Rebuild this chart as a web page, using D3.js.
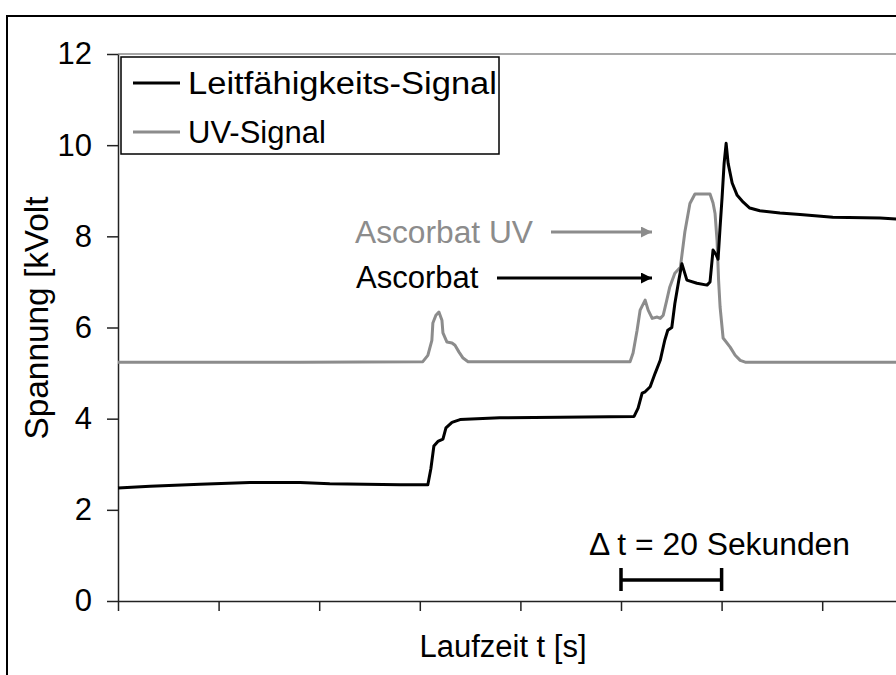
<!DOCTYPE html>
<html>
<head>
<meta charset="utf-8">
<script src="https://cdn.jsdelivr.net/npm/d3@7"></script>
<style>
  html, body { margin: 0; padding: 0; background: #fff; }
  svg { display: block; font-family: "Liberation Sans", Arial, sans-serif; }
</style>
</head>
<body>
<svg id="chart" width="896" height="675"></svg>
<script>
// Laufzeit t [s] and Spannung [kVolt] samples of the two detector signals
const leitTime  = [0, 6.4, 16.3, 26.2, 36.2, 42.1, 56.1, 61.6, 62.2, 62.8, 63.6, 64.6, 65.2, 66.4, 68.0, 75.9, 87.9, 102.6, 103.4, 104.2, 104.8, 105.8, 106.8, 107.8, 108.7, 109.3, 110.1, 110.7, 111.5, 112.1, 113.1, 115.1, 117.1, 117.7, 118.3, 118.9, 119.3, 119.7, 120.1, 120.5, 120.9, 121.3, 122.1, 123.1, 124.3, 125.6, 127.6, 131.6, 135.6, 142.1, 151.5, 154.7, 160];
const leitValue = [2.48, 2.52, 2.56, 2.60, 2.60, 2.57, 2.55, 2.55, 2.9, 3.4, 3.5, 3.55, 3.8, 3.92, 3.98, 4.02, 4.03, 4.05, 4.23, 4.56, 4.59, 4.7, 5.0, 5.28, 5.72, 5.94, 6.0, 6.52, 7.04, 7.4, 7.04, 6.97, 6.93, 7.0, 7.7, 7.6, 7.5, 8.2, 8.86, 9.6, 10.04, 9.6, 9.17, 8.9, 8.75, 8.62, 8.56, 8.51, 8.48, 8.42, 8.40, 8.38, 8.36];

const uvTime  = [0, 36.2, 60.6, 61.6, 62.4, 62.6, 63.2, 63.8, 64.4, 64.6, 65.4, 66.4, 67.0, 67.8, 68.6, 69.6, 101.8, 102.4, 103.2, 103.8, 104.8, 105.4, 106.2, 107.2, 107.8, 108.4, 109.1, 109.7, 110.7, 111.8, 112.7, 113.7, 114.7, 117.7, 118.3, 118.7, 119.1, 119.4, 119.7, 120.3, 121.7, 122.7, 123.7, 124.7, 154.7, 160];
const uvValue = [5.24, 5.24, 5.25, 5.39, 5.72, 6.1, 6.27, 6.34, 6.16, 5.88, 5.68, 5.66, 5.61, 5.46, 5.33, 5.25, 5.25, 5.44, 5.94, 6.38, 6.6, 6.38, 6.2, 6.23, 6.2, 6.27, 6.6, 6.89, 7.19, 7.32, 8.1, 8.72, 8.93, 8.93, 8.73, 8.5, 7.9, 7.04, 6.45, 5.77, 5.57, 5.39, 5.28, 5.24, 5.24, 5.24];

const yTicks = [0, 2, 4, 6, 8, 10, 12];
const xTicks = [0, 20, 40, 60, 80, 100, 120, 140, 160];
const legendLabels = ["Leitfähigkeits-Signal", "UV-Signal"];
const deltaSpan = [100, 120];

const BLACK = "#000";
const GREY = "#8c8c8c";
const FONT = 31;

const svg = d3.select("#chart");

// outer frame
svg.append("rect")
  .attr("x", 7).attr("y", 16)
  .attr("width", 1000).attr("height", 800)
  .attr("fill", "none").attr("stroke", BLACK).attr("stroke-width", 2);

const x = d3.scaleLinear().domain([0, 160]).range([118, 118 + 8 * 100.6]);
const y = d3.scaleLinear().domain([0, 12]).range([601, 54]);

// grey top border of the plot area
svg.append("line")
  .attr("x1", x(0)).attr("x2", 900)
  .attr("y1", y(12)).attr("y2", y(12))
  .attr("stroke", "#8a8a8a").attr("stroke-width", 1.5);

// y axis
const yAxis = svg.append("g")
  .attr("transform", `translate(${x(0)},0)`)
  .call(d3.axisLeft(y).tickValues(yTicks).tickSize(11).tickPadding(15).tickSizeOuter(0));
yAxis.selectAll("text").attr("font-size", FONT).attr("fill", BLACK)
  .attr("font-family", "Liberation Sans, Arial, sans-serif");
yAxis.selectAll("line, path").attr("stroke", "#222").attr("stroke-width", 1.5);

// x axis (unlabelled ticks)
const xAxis = svg.append("g")
  .attr("transform", `translate(0,${y(0)})`)
  .call(d3.axisBottom(x).tickValues(xTicks).tickSize(10).tickFormat("").tickSizeOuter(0));
xAxis.selectAll("line, path").attr("stroke", "#222").attr("stroke-width", 1.5);

// axis titles
svg.append("text")
  .attr("x", 503).attr("y", 657)
  .attr("text-anchor", "middle")
  .attr("font-size", FONT)
  .text("Laufzeit t [s]");

svg.append("text")
  .attr("transform", "translate(48,318) rotate(-90)")
  .attr("text-anchor", "middle")
  .attr("font-size", 33)
  .attr("textLength", 243).attr("lengthAdjust", "spacingAndGlyphs")
  .text("Spannung [kVolt");

// signal curves
const line = d3.line().x(d => x(d[0])).y(d => y(d[1]));
const uvData = uvTime.map((t, i) => [t, uvValue[i]]);
const leitData = leitTime.map((t, i) => [t, leitValue[i]]);

svg.append("path").datum(uvData)
  .attr("d", line).attr("fill", "none")
  .attr("stroke", GREY).attr("stroke-width", 3).attr("stroke-linejoin", "round");

svg.append("path").datum(leitData)
  .attr("d", line).attr("fill", "none")
  .attr("stroke", BLACK).attr("stroke-width", 3).attr("stroke-linejoin", "round");

// legend
const legend = svg.append("g");
legend.append("rect")
  .attr("x", 121).attr("y", 57).attr("width", 378).attr("height", 97)
  .attr("fill", "#fff").attr("stroke", BLACK).attr("stroke-width", 1.5);
[BLACK, GREY].forEach((c, i) => {
  const ly = 83 + i * 49;
  legend.append("line")
    .attr("x1", 133).attr("x2", 180).attr("y1", ly).attr("y2", ly)
    .attr("stroke", c).attr("stroke-width", 3);
  const t = legend.append("text")
    .attr("x", 188).attr("y", ly + 11)
    .attr("font-size", FONT)
    .text(legendLabels[i]);
  if (i === 0) t.attr("textLength", 309).attr("lengthAdjust", "spacingAndGlyphs");
});

// arrow markers
const defs = svg.append("defs");
[["arrowGrey", GREY], ["arrowBlack", BLACK]].forEach(([id, c]) => {
  defs.append("marker")
    .attr("id", id).attr("viewBox", "0 0 10 10")
    .attr("refX", 10).attr("refY", 5)
    .attr("markerUnits", "userSpaceOnUse")
    .attr("markerWidth", 16).attr("markerHeight", 11)
    .attr("orient", "auto")
    .append("path").attr("d", "M0,0 L10,5 L0,10 Z").attr("fill", c);
});

// peak annotations
svg.append("text")
  .attr("x", 355).attr("y", 243)
  .attr("font-size", FONT).attr("fill", GREY)
  .attr("textLength", 178).attr("lengthAdjust", "spacingAndGlyphs")
  .text("Ascorbat UV");
svg.append("line")
  .attr("x1", 551).attr("x2", 652).attr("y1", 232).attr("y2", 232)
  .attr("stroke", GREY).attr("stroke-width", 3)
  .attr("marker-end", "url(#arrowGrey)");

svg.append("text")
  .attr("x", 356).attr("y", 288)
  .attr("font-size", FONT).attr("fill", BLACK)
  .text("Ascorbat");
svg.append("line")
  .attr("x1", 497).attr("x2", 652).attr("y1", 278).attr("y2", 278)
  .attr("stroke", BLACK).attr("stroke-width", 3)
  .attr("marker-end", "url(#arrowBlack)");

// time scale bar
const bar = svg.append("g").attr("stroke", BLACK).attr("stroke-width", 3.5);
bar.append("line")
  .attr("x1", x(deltaSpan[0])).attr("x2", x(deltaSpan[1]))
  .attr("y1", 580).attr("y2", 580);
deltaSpan.forEach(t => {
  bar.append("line")
    .attr("x1", x(t)).attr("x2", x(t))
    .attr("y1", 568).attr("y2", 591);
});
svg.append("text")
  .attr("x", 589).attr("y", 555)
  .attr("font-size", FONT)
  .attr("textLength", 261).attr("lengthAdjust", "spacingAndGlyphs")
  .text("Δ t = 20 Sekunden");
</script>
</body>
</html>
